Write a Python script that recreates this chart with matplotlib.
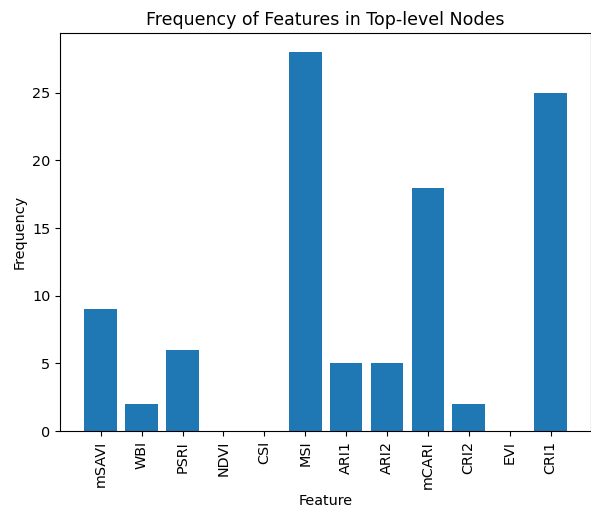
import matplotlib
matplotlib.use('Agg')
import matplotlib.pyplot as plt

plt.rcParams.update({'font.size': 10.4})

features = ['mSAVI', 'WBI', 'PSRI', 'NDVI', 'CSI', 'MSI', 'ARI1', 'ARI2',
            'mCARI', 'CRI2', 'EVI', 'CRI1']
counts = [9, 2, 6, 0, 0, 28, 5, 5, 18, 2, 0, 25]

fig, ax = plt.subplots(figsize=(5.91, 5.12), dpi=100)
ax.bar(features, counts, color='#1f77b4')
ax.set_title('Frequency of Features in Top-level Nodes')
ax.set_xlabel('Feature')
ax.set_ylabel('Frequency')
plt.xticks(rotation=90)
fig.subplots_adjust(left=0.102, right=1.0, top=0.935, bottom=0.158)
fig.savefig('out.png', dpi=100)
